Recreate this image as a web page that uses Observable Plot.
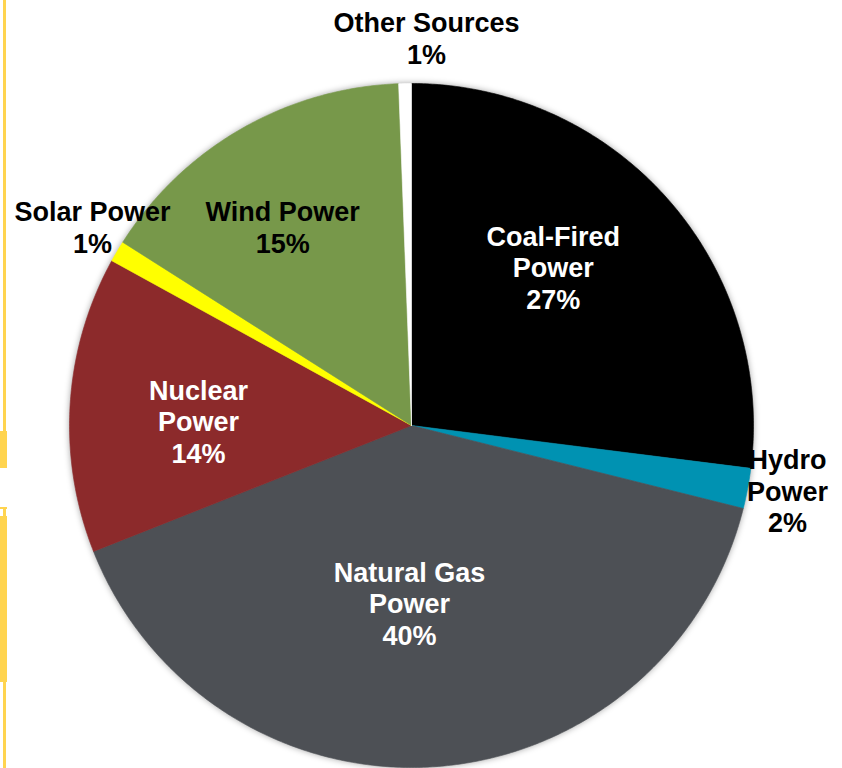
<!DOCTYPE html>
<html>
<head>
<meta charset="utf-8">
<script src="https://cdn.jsdelivr.net/npm/d3@7"></script>
<script src="https://cdn.jsdelivr.net/npm/@observablehq/plot@0.6"></script>
<style>
  html, body { margin: 0; padding: 0; background: #ffffff; }
  #wrap { position: relative; width: 842px; height: 768px; overflow: hidden; }
  .deco { position: absolute; background: #FFD44F; }
  #chart svg g[aria-label="line"] { filter: drop-shadow(0px 0px 3px rgba(0,0,0,0.35)); }
</style>
</head>
<body>
<div id="wrap">
  <div id="chart"></div>
  <div class="deco" style="left:3px;top:0;width:3px;height:432px"></div>
  <div class="deco" style="left:0;top:431px;width:7px;height:37px"></div>
  <div class="deco" style="left:0;top:507px;width:7px;height:2px"></div>
  <div class="deco" style="left:3px;top:507px;width:3px;height:10px"></div>
  <div class="deco" style="left:0;top:516px;width:7px;height:166px"></div>
  <div class="deco" style="left:3px;top:681px;width:3px;height:87px"></div>
</div>
<script>
// ---- data ----
const names = ["Coal-Fired Power", "Hydro Power", "Natural Gas Power", "Nuclear Power", "Solar Power", "Wind Power", "Other Sources"];
const labels = ["Coal-Fired\nPower", "Hydro\nPower", "Natural Gas\nPower", "Nuclear\nPower", "Solar Power", "Wind Power", "Other Sources"];
const shares = [27.0, 1.9, 40.1, 14.0, 1.0, 15.4, 0.6];
const colors = ["#000000", "#0092B2", "#4D5055", "#8C2A2B", "#FFFF00", "#77984A", "#FFFFFF"];
const labelInside = [true, false, true, true, false, false, false];
const labelDark = [false, true, false, false, true, true, true];

// ---- layout (label placement relative to slice mid-angle) ----
const labelRadius = [0.621, 1.116, 0.52, 0.623, 1.099, 0.692, 1.134];
const labelAngleShift = [-6.7, -0.8, 4.4, -2.5, 1.3, -3.1, 3.3];

const total = d3.sum(shares);
const rad = (deg) => deg * Math.PI / 180;

// slice polygons in unit coordinates, angle clockwise from 12 o'clock
const slicePts = [];
const labelData = [];
let start = 0;
shares.forEach((v, i) => {
  const span = v / total * 360;
  const end = start + span;
  const steps = Math.max(2, Math.ceil(span / 0.5));
  slicePts.push({name: names[i], x: 0, y: 0});
  for (let k = 0; k <= steps; k++) {
    const a = rad(start + span * k / steps);
    slicePts.push({name: names[i], x: Math.sin(a), y: Math.cos(a)});
  }
  slicePts.push({name: names[i], x: 0, y: 0});
  const mid = rad(start + span / 2 + labelAngleShift[i]);
  labelData.push({
    name: names[i],
    text: labels[i] + "\n" + Math.round(v / total * 100) + "%",
    x: labelRadius[i] * Math.sin(mid),
    y: labelRadius[i] * Math.cos(mid),
    dark: labelDark[i]
  });
  start = end;
});

const R = 342;
const cx = 411, cy = 425;

const chart = Plot.plot({
  width: 842,
  height: 768,
  marginLeft: cx - R,
  marginRight: 842 - (cx + R),
  marginTop: cy - R,
  marginBottom: 768 - (cy + R),
  x: {domain: [-1, 1], axis: null},
  y: {domain: [-1, 1], axis: null},
  color: {domain: names, range: colors},
  style: {fontFamily: "'Liberation Sans', Arial, sans-serif", background: "transparent", overflow: "visible"},
  marks: [
    Plot.line(slicePts, {x: "x", y: "y", z: "name", fill: "name", stroke: "name", strokeWidth: 0.6, curve: "linear"}),
    Plot.text(labelData.filter(d => !d.dark), {x: "x", y: "y", text: "text", fill: "white", fontSize: 27, fontWeight: "bold", lineHeight: 1.16, lineAnchor: "middle", textAnchor: "middle"}),
    Plot.text(labelData.filter(d => d.dark), {x: "x", y: "y", text: "text", fill: "black", fontSize: 27, fontWeight: "bold", lineHeight: 1.16, lineAnchor: "middle", textAnchor: "middle"})
  ]
});
document.getElementById("chart").appendChild(chart);
</script>
</body>
</html>
